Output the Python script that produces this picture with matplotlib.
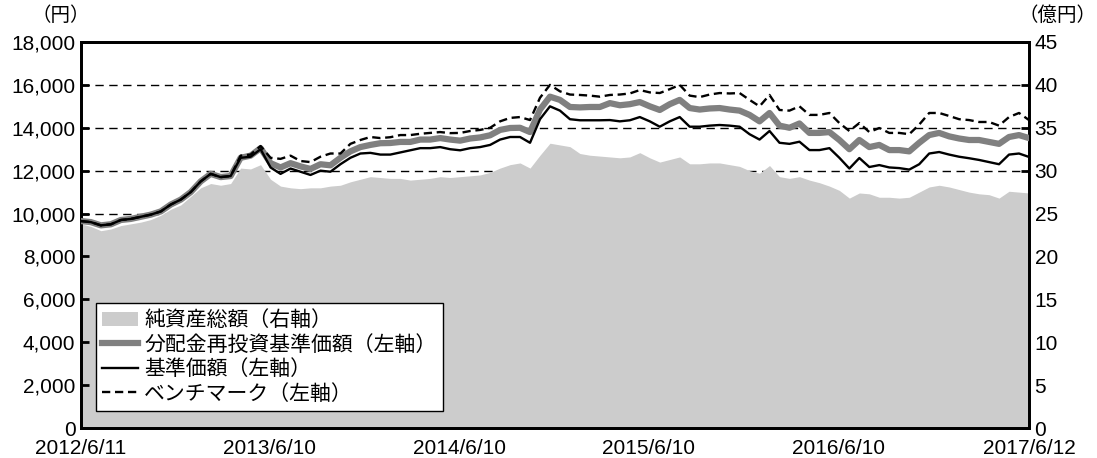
import matplotlib
matplotlib.use("Agg")
import matplotlib.pyplot as plt
import matplotlib.patches as mpatches
import matplotlib.lines as mlines
import pandas as pd

plt.rcParams['font.family'] = ['Noto Sans CJK JP', 'DejaVu Sans']

# sample dates (roughly every 19 days)
dates = pd.date_range("2012-06-11", "2017-06-12", periods=96)

# 基準価額 (円)
base_price = [
    9650, 9600, 9450, 9500, 9700, 9750, 9850, 9950, 10100, 10420,
    10650, 11000, 11500, 11850, 11700, 11750, 12600, 12650, 13000, 12150,
    11850, 12100, 11950, 11800, 12000, 11950, 12300, 12600, 12800, 12830,
    12750, 12750, 12850, 12950, 13050, 13050, 13100, 13000, 12950, 13050,
    13100, 13200, 13450, 13570, 13570, 13300, 14400, 15000, 14800, 14400,
    14350, 14350, 14350, 14360, 14300, 14350, 14500, 14300, 14050, 14300,
    14500, 14050, 14050, 14100, 14130, 14100, 14050, 13700, 13450, 13850,
    13300, 13250, 13350, 12960, 12960, 13050, 12600, 12100, 12590, 12170,
    12260, 12150, 12120, 12050, 12300, 12800, 12870, 12750, 12650, 12580,
    12500, 12400, 12300, 12750, 12800, 12640,
]

# 分配金再投資基準価額 (円)
reinvested = [
    9650, 9600, 9450, 9500, 9700, 9750, 9850, 9950, 10100, 10420,
    10650, 11000, 11500, 11850, 11700, 11750, 12600, 12700, 13050, 12350,
    12150, 12350, 12200, 12080, 12300, 12250, 12600, 12900, 13100, 13200,
    13280, 13290, 13340, 13340, 13450, 13450, 13520, 13450, 13400, 13500,
    13550, 13650, 13900, 13990, 14000, 13800, 14850, 15450, 15300, 14970,
    14950, 14970, 14970, 15150, 15050, 15100, 15200, 15000, 14830, 15100,
    15300, 14920, 14850, 14900, 14920, 14850, 14800, 14600, 14300, 14690,
    14100, 14000, 14200, 13760, 13760, 13800, 13430, 13000, 13430, 13100,
    13200, 12960, 12960, 12900, 13300, 13660, 13760, 13600, 13500, 13430,
    13430, 13340, 13250, 13570, 13660, 13520,
]

# ベンチマーク (円)
benchmark = [
    9650, 9600, 9450, 9500, 9700, 9750, 9850, 9950, 10100, 10420,
    10650, 11000, 11500, 11850, 11700, 11750, 12700, 12750, 13150, 12600,
    12550, 12700, 12450, 12400, 12650, 12800, 12800, 13250, 13430, 13570,
    13520, 13560, 13660, 13660, 13720, 13760, 13800, 13750, 13760, 13850,
    13900, 14000, 14300, 14460, 14500, 14360, 15400, 16000, 15700, 15550,
    15530, 15500, 15450, 15530, 15550, 15600, 15760, 15650, 15620, 15800,
    16000, 15500, 15430, 15550, 15620, 15600, 15620, 15300, 15000, 15530,
    14830, 14800, 15000, 14600, 14600, 14690, 14220, 13850, 14220, 13800,
    13990, 13760, 13760, 13700, 14150, 14690, 14690, 14550, 14400, 14360,
    14270, 14270, 14100, 14500, 14690, 14360,
]

# 純資産総額 (億円)
net_assets = [
    23.8, 23.5, 23.0, 23.2, 23.6, 23.8, 24.0, 24.3, 24.8, 25.5,
    26.0, 27.0, 28.0, 28.5, 28.3, 28.5, 30.3, 30.2, 30.7, 29.0,
    28.2, 28.0, 27.9, 28.0, 28.0, 28.2, 28.3, 28.7, 29.0, 29.3,
    29.2, 29.1, 29.1, 28.9, 29.0, 29.1, 29.3, 29.2, 29.3, 29.4,
    29.5, 29.8, 30.3, 30.7, 30.9, 30.3, 31.8, 33.2, 33.0, 32.8,
    32.0, 31.8, 31.7, 31.6, 31.5, 31.6, 32.1, 31.5, 31.0, 31.3,
    31.6, 30.8, 30.8, 30.9, 30.9, 30.7, 30.5, 30.0, 29.7, 30.6,
    29.3, 29.1, 29.3, 28.9, 28.6, 28.2, 27.7, 26.8, 27.4, 27.3,
    26.9, 26.9, 26.8, 26.9, 27.5, 28.1, 28.3, 28.1, 27.8, 27.5,
    27.3, 27.2, 26.8, 27.6, 27.5, 27.4,
]

tick_dates = ["2012-06-11", "2013-06-10", "2014-06-10", "2015-06-10", "2016-06-10", "2017-06-12"]
tick_labels = ["2012/6/11", "2013/6/10", "2014/6/10", "2015/6/10", "2016/6/10", "2017/6/12"]
left_ticks = list(range(0, 18001, 2000))
right_ticks = list(range(0, 46, 5))

fig = plt.figure(figsize=(10.97, 4.58), dpi=100)
ax = fig.add_axes([0.0738, 0.0655, 0.8642, 0.8428])

# net assets on the right axis, drawn first so grid sits behind it
ax.set_axisbelow(True)
ax.fill_between(dates, net_assets, 0, color="#cccccc", linewidth=0, zorder=2)
ax.set_ylim(0, 45)
ax.grid(axis="y", color="black", linestyle=(0, (6, 4)), linewidth=1.0, zorder=0)

ax2 = ax.twinx()
ax2.plot(dates, reinvested, color="#808080", linewidth=4.5, zorder=3)
ax2.plot(dates, base_price, color="black", linewidth=1.7, zorder=4)
ax2.plot(dates, benchmark, color="black", linewidth=1.7, linestyle=(0, (3.5, 2)), zorder=5)
ax2.set_ylim(0, 18000)
ax2.set_yticks(left_ticks)
ax2.set_yticklabels([f"{v:,}" for v in left_ticks])
ax2.yaxis.tick_left()

# twinx moves the original ticks to the left, so put them back on the right
ax.yaxis.tick_right()
ax.set_yticks(right_ticks)

ax.set_xlim(pd.Timestamp("2012-06-11"), pd.Timestamp("2017-06-12"))
ax.set_xticks(pd.to_datetime(tick_dates))
ax.set_xticklabels(tick_labels)

for a in (ax, ax2):
    for s in a.spines.values():
        s.set_linewidth(2)
    a.tick_params(direction="in", length=6, width=2, labelsize=15, pad=4)
ax.tick_params(axis="x", pad=8)

# numbers only in the tick labels, a Latin font keeps their boxes tight
for lab in ax.get_xticklabels() + ax.get_yticklabels() + ax2.get_yticklabels():
    lab.set_fontfamily("Liberation Sans")

fig.text(0.029, 0.99, "（円）", fontsize=14, ha="left", va="top")
fig.text(1.0, 0.99, "（億円）", fontsize=14, ha="right", va="top")

handles = [
    mpatches.Patch(facecolor="#cccccc", edgecolor="none"),
    mlines.Line2D([], [], color="#808080", linewidth=4.5),
    mlines.Line2D([], [], color="black", linewidth=1.7),
    mlines.Line2D([], [], color="black", linewidth=1.7, linestyle=(0, (3.5, 2))),
]
labels = ["純資産総額（右軸）", "分配金再投資基準価額（左軸）", "基準価額（左軸）", "ベンチマーク（左軸）"]
leg = ax2.legend(handles, labels, loc="lower left", bbox_to_anchor=(0.016, 0.044),
                 fontsize=15, frameon=True, fancybox=False, framealpha=1,
                 edgecolor="black", handlelength=1.7, handletextpad=0.3,
                 labelspacing=0.12, borderpad=0.3, borderaxespad=0)
leg.get_frame().set_linewidth(1.0)

fig.savefig("out.png", dpi=100)
